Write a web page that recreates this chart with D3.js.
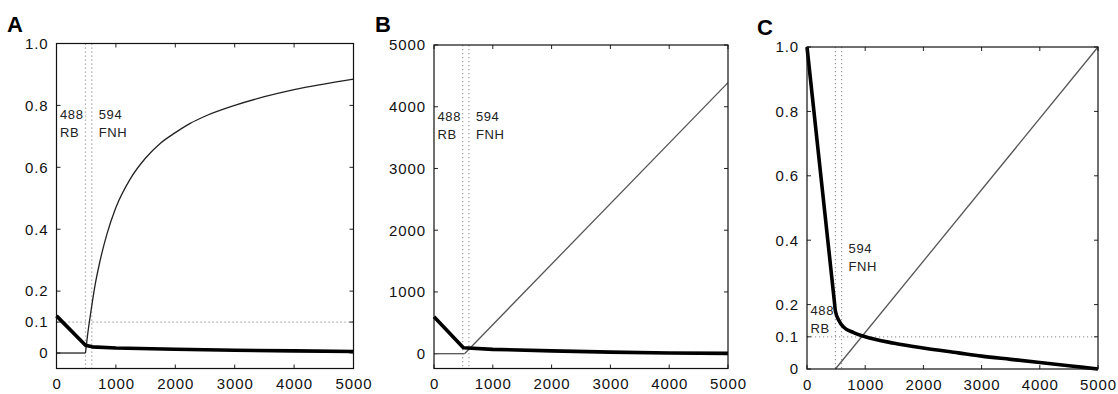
<!DOCTYPE html>
<meta charset="utf-8">
<script src="https://d3js.org/d3.v7.min.js"></script>
<style>
  body { margin: 0; background: #fff; }
  text { font-family: "Liberation Sans", Arial, Helvetica, sans-serif; }
</style>
<div id="my_dataviz"></div>
<script>
// ---- data ----
var xTicks = [0, 1000, 2000, 3000, 4000, 5000];
var fracTicks = [0, 0.1, 0.2, 0.4, 0.6, 0.8, 1.0];
var countTicks = [0, 1000, 2000, 3000, 4000, 5000];
var markers = [488, 594];

// panel A
var aFlatX = [0, 488];
var aFlatY = [0, 0];
var aRiseX = [488, 520, 584, 650, 724, 850, 1000, 1250, 1500, 1750, 2000, 2250, 2500, 3000, 3500, 4000, 4500, 5000];
var aRiseY = [0, 0.053, 0.14, 0.22, 0.29, 0.385, 0.47, 0.565, 0.63, 0.678, 0.712, 0.742, 0.765, 0.80, 0.828, 0.851, 0.869, 0.885];
var aThickX = [0, 488, 600, 1000, 2000, 3000, 4000, 5000];
var aThickY = [0.12, 0.025, 0.02, 0.016, 0.012, 0.009, 0.007, 0.005];

// panel B
var bFlatX = [0, 520];
var bFlatY = [0, 0];
var bRiseX = [520, 5000];
var bRiseY = [0, 4390];
var bThickX = [0, 500, 1000, 2000, 3000, 4000, 5000];
var bThickY = [600, 95, 70, 45, 25, 12, 5];

// panel C
var cRiseX = [488, 5000];
var cRiseY = [0, 1.0];
var cThickX = [0, 470, 488, 550, 630, 800, 1000, 1500, 2000, 2600, 3000, 3500, 4000, 4500, 5000];
var cThickY = [1.0, 0.21, 0.18, 0.15, 0.13, 0.113, 0.1, 0.08, 0.065, 0.05, 0.04, 0.03, 0.02, 0.01, 0];

// annotation heights (data units of each panel)
var aLabelY = [0.755, 0.697];
var bLabelY = [3770, 3480];
var cLabel488Y = [0.168, 0.112];
var cLabel594Y = [0.36, 0.304];

var svg = d3.select("#my_dataviz")
  .append("svg")
    .attr("width", 1118)
    .attr("height", 394);

function zip(xs, ys) { return xs.map(function(d, i) { return [d, ys[i]]; }); }

var fracFmt = function(d) { return d === 0 ? "0" : d3.format(".1f")(d); };

var panels = [
  { letter: "A", lx: 7, ly: 32, left: 56.5, right: 353.5, top: 43.5, bottom: 368.5,
    yDomain: [-0.05, 1], yTicks: fracTicks, fmt: fracFmt, hLine: 0.1,
    thin: [
      { pts: zip(aFlatX, aFlatY), color: "#222", curve: d3.curveLinear },
      { pts: zip(aRiseX, aRiseY), color: "#222", curve: d3.curveMonotoneX }
    ],
    thick: zip(aThickX, aThickY), thickCurve: d3.curveLinear,
    l488: aLabelY, l594: aLabelY },
  { letter: "B", lx: 375, ly: 32, left: 434, right: 728, top: 45, bottom: 368.5,
    yDomain: [-240, 5000], yTicks: countTicks, fmt: d3.format("d"), hLine: null,
    thin: [
      { pts: zip(bFlatX, bFlatY), color: "#555", curve: d3.curveLinear },
      { pts: zip(bRiseX, bRiseY), color: "#555", curve: d3.curveLinear }
    ],
    thick: zip(bThickX, bThickY), thickCurve: d3.curveLinear,
    l488: bLabelY, l594: bLabelY },
  { letter: "C", lx: 757, ly: 35, left: 807, right: 1098, top: 47, bottom: 369,
    yDomain: [0, 1], yTicks: fracTicks, fmt: fracFmt, hLine: 0.1,
    thin: [
      { pts: zip(cRiseX, cRiseY), color: "#555", curve: d3.curveLinear }
    ],
    thick: zip(cThickX, cThickY), thickCurve: d3.curveMonotoneX,
    l488: cLabel488Y, l594: cLabel594Y }
];

panels.forEach(function(p) {
  var x = d3.scaleLinear().domain([0, 5000]).range([p.left, p.right]);
  var y = d3.scaleLinear().domain(p.yDomain).range([p.bottom, p.top]);
  var g = svg.append("g");

  // panel letter
  g.append("text")
    .attr("x", p.lx).attr("y", p.ly)
    .style("font-size", "22px").style("font-weight", "bold")
    .text(p.letter);

  // dotted guide lines
  markers.forEach(function(m) {
    g.append("line")
      .attr("x1", x(m)).attr("x2", x(m))
      .attr("y1", p.top).attr("y2", p.bottom)
      .attr("stroke", "#999").attr("stroke-width", 1.2)
      .attr("stroke-dasharray", "1.2,2.8");
  });
  if (p.hLine !== null) {
    g.append("line")
      .attr("x1", p.left).attr("x2", p.right)
      .attr("y1", y(p.hLine)).attr("y2", y(p.hLine))
      .attr("stroke", "#999").attr("stroke-width", 1.2)
      .attr("stroke-dasharray", "1.2,2.8");
  }

  // annotations
  var ann = g.append("g").style("font-size", "13px").style("letter-spacing", "0.6px").attr("fill", "#222");
  ann.append("text").attr("x", p.left + 3.5).attr("y", y(p.l488[0])).text("488");
  ann.append("text").attr("x", p.left + 3.5).attr("y", y(p.l488[1])).text("RB");
  ann.append("text").attr("x", x(594) + 7).attr("y", y(p.l594[0])).text("594");
  ann.append("text").attr("x", x(594) + 7).attr("y", y(p.l594[1])).text("FNH");

  // axes (labels only), inward ticks on all sides
  var xb = g.append("g")
    .attr("transform", "translate(0," + p.bottom + ")")
    .call(d3.axisBottom(x).tickValues(xTicks).tickSize(0).tickPadding(10).tickFormat(d3.format("d")));
  var yl = g.append("g")
    .attr("transform", "translate(" + p.left + ",0)")
    .call(d3.axisLeft(y).tickValues(p.yTicks).tickSize(0).tickPadding(8).tickFormat(p.fmt));
  [xb, yl].forEach(function(a) {
    a.select(".domain").remove();
    a.selectAll("text")
      .style("font-family", "'Liberation Sans', Arial, Helvetica, sans-serif")
      .style("font-size", "15px").style("letter-spacing", "0.9px").attr("fill", "#111");
  });

  var tk = g.append("g").attr("stroke", "#222").attr("stroke-width", 1);
  xTicks.forEach(function(t) {
    tk.append("line").attr("x1", x(t)).attr("x2", x(t)).attr("y1", p.bottom).attr("y2", p.bottom - 4);
    tk.append("line").attr("x1", x(t)).attr("x2", x(t)).attr("y1", p.top).attr("y2", p.top + 4);
  });
  p.yTicks.forEach(function(t) {
    tk.append("line").attr("x1", p.left).attr("x2", p.left + 4).attr("y1", y(t)).attr("y2", y(t));
    tk.append("line").attr("x1", p.right).attr("x2", p.right - 4).attr("y1", y(t)).attr("y2", y(t));
  });

  // curves
  p.thin.forEach(function(s) {
    g.append("path")
      .datum(s.pts)
      .attr("d", d3.line().curve(s.curve).x(function(d) { return x(d[0]); }).y(function(d) { return y(d[1]); }))
      .attr("fill", "none").attr("stroke", s.color).attr("stroke-width", 1.3);
  });
  g.append("path")
    .datum(p.thick)
    .attr("d", d3.line().curve(p.thickCurve).x(function(d) { return x(d[0]); }).y(function(d) { return y(d[1]); }))
    .attr("fill", "none").attr("stroke", "#000").attr("stroke-width", 3.6)
    .attr("stroke-linejoin", "round");

  // frame
  g.append("rect")
    .attr("x", p.left).attr("y", p.top)
    .attr("width", p.right - p.left).attr("height", p.bottom - p.top)
    .attr("fill", "none").attr("stroke", "#111").attr("stroke-width", 1.2);
});
</script>
